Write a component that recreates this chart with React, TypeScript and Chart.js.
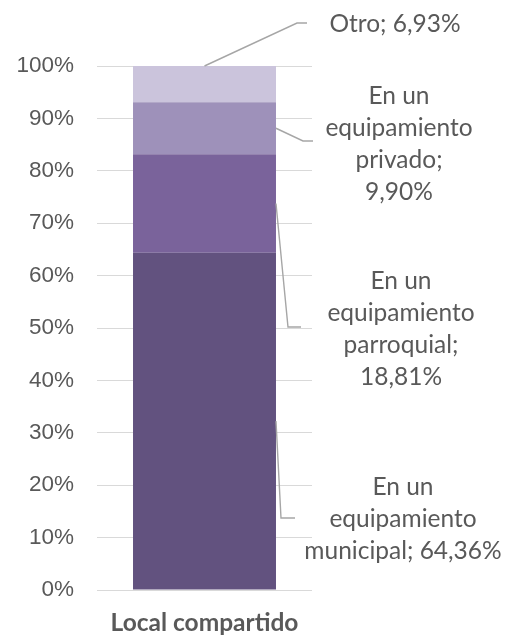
import React, { useEffect, useRef } from "react";
import { Chart, registerables } from "chart.js";

Chart.register(...registerables);

// ---- data ----
const categories = ["Local compartido"];
const municipal = [64.36];
const parroquial = [18.81];
const privado = [9.9];
const otro = [6.93];
const yTickStep = 10;
const yMax = 100;

// ---- styling / annotation layout ----
const colors = ["#62527f", "#7a639b", "#9e91ba", "#cbc4dc"];
const textColor = "#595959";
const leaderColor = "#a6a6a6";

// label layout per dataset (order: municipal, parroquial, privado, otro)
const labelLayout = [
  { lines: ["En un", "equipamiento", "municipal; {v}"], dx: 91, yVal: 13.45, elbow: [-31, -17], elbowVal: 13.74, fromTop: false },
  { lines: ["En un", "equipamiento", "parroquial;", "{v}"], dx: 89, yVal: 49.71, elbow: [-24, -11], elbowVal: 50.19, fromTop: false },
  { lines: ["En un", "equipamiento", "privado;", "{v}"], dx: 87, yVal: 85.02, elbow: [-9, 1], elbowVal: 85.69, fromTop: false },
  { lines: ["Otro; {v}"], dx: 83, yVal: 108.0, elbow: [-15, -5], elbowVal: 108.2, fromTop: true },
];

const fmt = (v: number) => v.toFixed(2).replace(".", ",") + "%";

const labelPlugin = {
  id: "segLabels",
  afterDatasetsDraw(chart: any) {
    const { ctx, chartArea, scales } = chart;
    const yScale = scales.y;
    ctx.save();
    labelLayout.forEach((lay, i) => {
      const meta = chart.getDatasetMeta(i);
      const bar: any = meta.data[0];
      if (!bar) return;
      const value = chart.data.datasets[i].data[0] as number;
      let sx: number, sy: number;
      if (lay.fromTop) {
        sx = bar.x;
        sy = bar.y;
      } else {
        sx = bar.x + bar.width / 2;
        sy = (bar.y + bar.base) / 2;
      }
      const ey = yScale.getPixelForValue(lay.elbowVal);
      const ex1 = chartArea.right + lay.elbow[0];
      const ex2 = chartArea.right + lay.elbow[1];
      ctx.strokeStyle = leaderColor;
      ctx.lineWidth = 1.4;
      ctx.beginPath();
      ctx.moveTo(sx, sy);
      ctx.lineTo(ex1, ey);
      ctx.lineTo(ex2, ey);
      ctx.stroke();

      ctx.fillStyle = textColor;
      ctx.font = "24.5px Lato";
      ctx.textAlign = "center";
      ctx.textBaseline = "middle";
      const lh = 32;
      const cy = yScale.getPixelForValue(lay.yVal);
      const n = lay.lines.length;
      lay.lines.forEach((ln, k) => {
        const t = ln.replace("{v}", fmt(value));
        ctx.fillText(t, chartArea.right + lay.dx, cy + (k - (n - 1) / 2) * lh);
      });
    });
    ctx.restore();
  },
};

export default function App() {
  const ref = useRef<HTMLCanvasElement | null>(null);
  useEffect(() => {
    document.body.style.margin = "0";
    if (!ref.current) return;
    const chart = new Chart(ref.current, {
      type: "bar",
      data: {
        labels: categories,
        datasets: [
          { label: "En un equipamiento municipal", data: municipal, backgroundColor: colors[0] },
          { label: "En un equipamiento parroquial", data: parroquial, backgroundColor: colors[1] },
          { label: "En un equipamiento privado", data: privado, backgroundColor: colors[2] },
          { label: "Otro", data: otro, backgroundColor: colors[3] },
        ],
      },
      options: {
        animation: false,
        responsive: true,
        maintainAspectRatio: false,
        layout: { padding: { top: 66, right: 194, left: 0, bottom: 0 } },
        datasets: { bar: { categoryPercentage: 1, barPercentage: 0.665, borderWidth: 0 } },
        plugins: { legend: { display: false }, tooltip: { enabled: false } },
        scales: {
          x: {
            stacked: true,
            grid: { display: false, drawTicks: false },
            border: { display: false },
            ticks: { color: textColor, font: { family: "Lato", size: 24.5, weight: "bold" }, padding: 18 },
            afterFit: (s: any) => { s.height = 47; },
          },
          y: {
            stacked: true,
            min: 0,
            max: yMax,
            grid: { color: "#d9d9d9", lineWidth: 1, drawTicks: false },
            border: { display: false },
            ticks: {
              stepSize: yTickStep,
              color: textColor,
              font: { family: "Liberation Sans", size: 22.5 },
              padding: 23,
              callback: (v: any) => v + "%",
            },
            afterFit: (s: any) => { s.width = 97; },
          },
        },
      },
      plugins: [labelPlugin],
    });
    return () => chart.destroy();
  }, []);
  return (
    <div style={{ width: 506, height: 637, position: "relative", background: "#fff" }}>
      <canvas ref={ref} />
    </div>
  );
}
